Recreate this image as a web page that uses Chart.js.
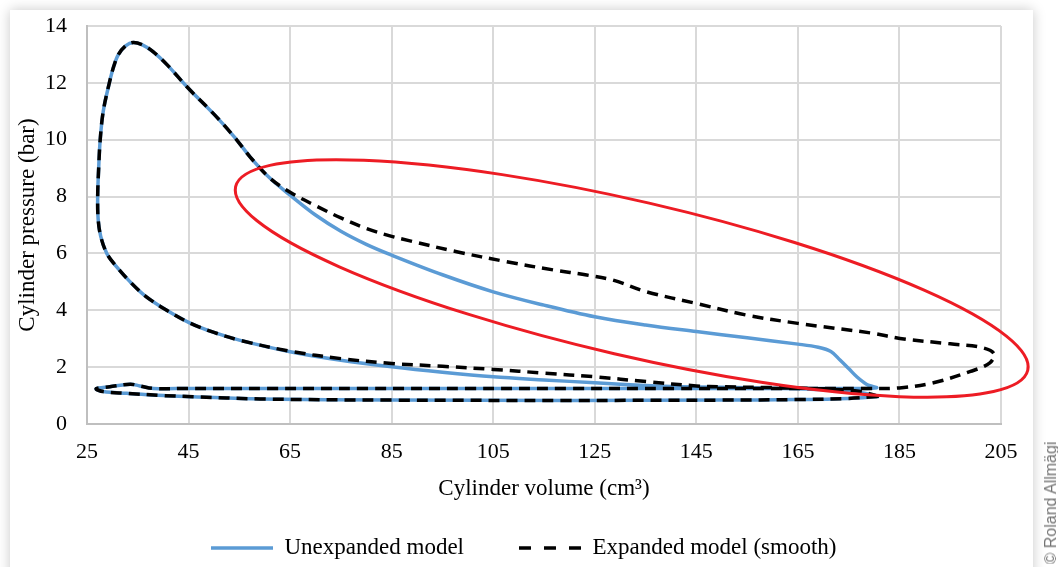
<!DOCTYPE html>
<html>
<head>
<meta charset="utf-8">
<script src="https://cdn.jsdelivr.net/npm/chart.js@4.4.0/dist/chart.umd.min.js"></script>
<style>
html,body{margin:0;padding:0;width:1058px;height:567px;overflow:hidden;background:#fff;}
#card{position:absolute;left:10px;top:10px;width:1023px;height:640px;background:#fff;box-shadow:0 0 12px rgba(0,0,0,0.22);}
#wrap{position:absolute;left:0;top:0;width:1058px;height:600px;}
#copy{position:absolute;left:1051px;top:503px;transform:translate(-50%,-50%) rotate(-90deg);font-family:"Liberation Sans",Arial,sans-serif;font-size:16px;color:#737373;white-space:nowrap;}
</style>
</head>
<body>
<div id="card"></div>
<div id="wrap"><canvas id="c" width="1058" height="600"></canvas></div>
<div id="copy">© Roland Allmägi</div>
<script>
// ---- Data (volume in cm³, pressure in bar) ----
const seriesNames = ["Unexpanded model", "Expanded model (smooth)"];
const xTickValues = [25, 45, 65, 85, 105, 125, 145, 165, 185, 205];
const yTickValues = [0, 2, 4, 6, 8, 10, 12, 14];

const unexpandedVolume = [
  181.0, 177.0, 170.0, 160.0, 150.0, 140.0, 135.0, 125.0, 115.0, 105.0,
  95.0, 85.0, 75.0, 65.0, 55.0, 50.0, 45.3, 40.7, 36.5, 33.5,
  30.5, 28.9, 27.7, 27.2, 27.1, 27.3, 27.6, 28.2, 29.4, 30.3,
  31.2, 32.6, 34.1, 36.0, 38.0, 40.7, 45.0, 50.0, 54.0, 57.1,
  61.0, 65.0, 70.0, 75.0, 80.0, 85.0, 95.0, 105.0, 115.0, 125.0,
  135.0, 145.0, 155.0, 165.0, 169.0, 171.5, 173.3, 175.0, 176.6, 178.5,
  180.5, 175.0, 160.0, 140.0, 120.0, 100.0, 80.0, 60.0, 45.0, 38.1,
  35.4, 33.5, 29.5, 26.8, 28.2, 32.8, 40.0, 45.9, 59.1, 85.0,
  120.0, 150.0, 165.0, 175.0, 181.0
];
const unexpandedPressure = [
  0.97, 1.12, 1.21, 1.26, 1.29, 1.32, 1.35, 1.45, 1.55, 1.66,
  1.82, 2.01, 2.24, 2.54, 2.95, 3.22, 3.55, 4.00, 4.50, 5.00,
  5.60, 6.00, 6.60, 7.20, 8.00, 9.00, 10.00, 11.00, 12.00, 12.60,
  13.00, 13.30, 13.42, 13.33, 13.10, 12.65, 11.80, 10.90, 10.10, 9.40,
  8.65, 8.05, 7.35, 6.78, 6.32, 5.94, 5.25, 4.65, 4.18, 3.77,
  3.48, 3.25, 3.03, 2.81, 2.70, 2.55, 2.25, 1.95, 1.66, 1.40,
  1.27, 1.25, 1.25, 1.25, 1.25, 1.25, 1.25, 1.25, 1.25, 1.25,
  1.34, 1.40, 1.31, 1.24, 1.14, 1.08, 1.00, 0.96, 0.88, 0.84,
  0.83, 0.84, 0.86, 0.90, 0.97
];

const expandedVolume = [
  181.0, 177.0, 170.0, 160.0, 150.0, 145.0, 135.2, 125.0, 115.0, 105.0,
  95.0, 85.0, 75.0, 65.0, 55.0, 50.0, 45.3, 40.7, 36.5, 33.5,
  30.5, 28.9, 27.7, 27.2, 27.1, 27.3, 27.6, 28.2, 29.4, 30.3,
  31.2, 32.6, 34.1, 36.0, 38.0, 40.7, 45.0, 50.0, 54.0, 57.1,
  61.0, 65.0, 70.0, 75.0, 80.0, 85.0, 88.4, 97.8, 107.6, 116.8,
  123.4, 128.6, 135.2, 145.0, 154.9, 165.0, 179.8, 185.1, 195.0, 201.0,
  203.6, 202.8, 199.0, 191.7, 185.0, 178.0, 160.0, 140.0, 120.0, 100.0,
  80.0, 60.0, 45.0, 38.1, 35.4, 33.5, 29.5, 26.8, 28.2, 32.8,
  40.0, 45.9, 59.1, 85.0, 120.0, 150.0, 165.0, 175.0, 181.0
];
const expandedPressure = [
  0.97, 1.15, 1.24, 1.28, 1.31, 1.34, 1.49, 1.66, 1.79, 1.92,
  2.03, 2.13, 2.30, 2.56, 2.95, 3.22, 3.55, 4.00, 4.50, 5.00,
  5.60, 6.00, 6.60, 7.20, 8.00, 9.00, 10.00, 11.00, 12.00, 12.60,
  13.00, 13.30, 13.42, 13.33, 13.10, 12.65, 11.80, 10.90, 10.10, 9.40,
  8.65, 8.15, 7.68, 7.25, 6.88, 6.60, 6.45, 6.06, 5.71, 5.42,
  5.24, 5.06, 4.65, 4.24, 3.83, 3.54, 3.19, 3.01, 2.82, 2.70,
  2.48, 2.15, 1.85, 1.45, 1.27, 1.25, 1.25, 1.25, 1.25, 1.25,
  1.25, 1.25, 1.25, 1.25, 1.34, 1.40, 1.31, 1.24, 1.14, 1.08,
  1.00, 0.96, 0.88, 0.84, 0.83, 0.84, 0.86, 0.90, 0.97
];

// Red highlight ellipse, in data units: centre, end of major semi-axis, end of minor semi-axis
const ellipseCentre = [132.27, 5.12];
const ellipseMajorEnd = [210.27, 1.89];
const ellipseMinorEnd = [128.84, 2.47];

// ---- Build chart ----
function toPoints(xs, ys) { return xs.map((x, i) => ({ x: x, y: ys[i] })); }

const serif = '"Liberation Serif", "Times New Roman", serif';

const ellipsePlugin = {
  id: 'highlightEllipse',
  afterDatasetsDraw(chart) {
    const xs = chart.scales.x, ys = chart.scales.y, ctx = chart.ctx;
    const cx = xs.getPixelForValue(ellipseCentre[0]), cy = ys.getPixelForValue(ellipseCentre[1]);
    const ux = xs.getPixelForValue(ellipseMajorEnd[0]) - cx, uy = ys.getPixelForValue(ellipseMajorEnd[1]) - cy;
    const vx = xs.getPixelForValue(ellipseMinorEnd[0]) - cx, vy = ys.getPixelForValue(ellipseMinorEnd[1]) - cy;
    ctx.save();
    ctx.beginPath();
    ctx.ellipse(cx, cy, Math.hypot(ux, uy), Math.hypot(vx, vy), Math.atan2(uy, ux), 0, Math.PI * 2);
    ctx.strokeStyle = '#ed1c24';
    ctx.lineWidth = 3;
    ctx.stroke();
    ctx.restore();
  }
};

const legendShift = {
  id: 'legendShift',
  afterLayout(chart) {
    const lg = chart.legend;
    if (!lg || !lg.lineWidths) return;
    const p = lg.options.labels.padding;
    const start = (lg.left + p + lg.right - lg.lineWidths[0]) / 2;
    const shift = 211 - start;
    lg.left += shift;
    lg.right += shift;
  }
};

new Chart(document.getElementById('c'), {
  type: 'scatter',
  data: {
    datasets: [
      {
        label: seriesNames[0],
        data: toPoints(unexpandedVolume, unexpandedPressure),
        showLine: true,
        borderColor: '#5b9bd5',
        backgroundColor: '#5b9bd5',
        borderWidth: 3.5,
        pointRadius: 0,
        pointHoverRadius: 0,
        tension: 0.35,
        borderJoinStyle: 'round',
        fill: false,
        order: 2
      },
      {
        label: seriesNames[1],
        data: toPoints(expandedVolume, expandedPressure),
        showLine: true,
        borderColor: '#000000',
        backgroundColor: '#000000',
        borderWidth: 3.5,
        borderDash: [11, 7],
        pointRadius: 0,
        pointHoverRadius: 0,
        tension: 0.35,
        borderJoinStyle: 'round',
        fill: false,
        order: 1
      }
    ]
  },
  options: {
    responsive: false,
    animation: false,
    layout: { padding: { top: 26, right: 57, bottom: 30.5, left: 0 } },
    scales: {
      x: {
        type: 'linear',
        min: xTickValues[0],
        max: xTickValues[xTickValues.length - 1],
        afterBuildTicks(scale) { scale.ticks = xTickValues.map(v => ({ value: v })); },
        afterFit(scale) { scale.height = 57.5; },
        ticks: { padding: 15.3, color: '#000', font: { family: serif, size: 22 }, maxRotation: 0 },
        grid: { color: '#d9d9d9', lineWidth: 2, drawTicks: false },
        border: { color: '#bfbfbf', width: 2 },
        title: { display: true, text: 'Cylinder volume (cm³)', color: '#000', font: { family: serif, size: 23 }, padding: { top: 0, bottom: -21.3 } }
      },
      y: {
        type: 'linear',
        min: yTickValues[0],
        max: yTickValues[yTickValues.length - 1],
        afterBuildTicks(scale) { scale.ticks = yTickValues.map(v => ({ value: v })); },
        afterFit(scale) { scale.width = 87; scale.paddingTop = 13; scale.paddingBottom = 13; },
        ticks: { padding: 20, color: '#000', font: { family: serif, size: 22 } },
        grid: { color: '#d9d9d9', lineWidth: 2, drawTicks: false },
        border: { color: '#bfbfbf', width: 2 },
        title: { display: true, text: 'Cylinder pressure (bar)', color: '#000', font: { family: serif, size: 23 }, padding: { top: 14, bottom: 0 } }
      }
    },
    plugins: {
      legend: {
        position: 'bottom',
        labels: {
          usePointStyle: true,
          pointStyle: 'line',
          pointStyleWidth: 62,
          padding: 55,
          color: '#000',
          font: { family: serif, size: 23 },
          sort: (a, b) => a.datasetIndex - b.datasetIndex,
          generateLabels(chart) {
            const items = Chart.defaults.plugins.legend.labels.generateLabels(chart);
            items.forEach(it => {
              const ds = chart.data.datasets[it.datasetIndex];
              it.lineDash = ds.borderDash ? [12, 13] : [];
              it.lineWidth = ds.borderWidth;
              it.strokeStyle = ds.borderColor;
              it.lineCap = 'butt';
            });
            return items;
          }
        }
      },
      tooltip: { enabled: false }
    }
  },
  plugins: [ellipsePlugin, legendShift]
});
</script>
</body>
</html>
